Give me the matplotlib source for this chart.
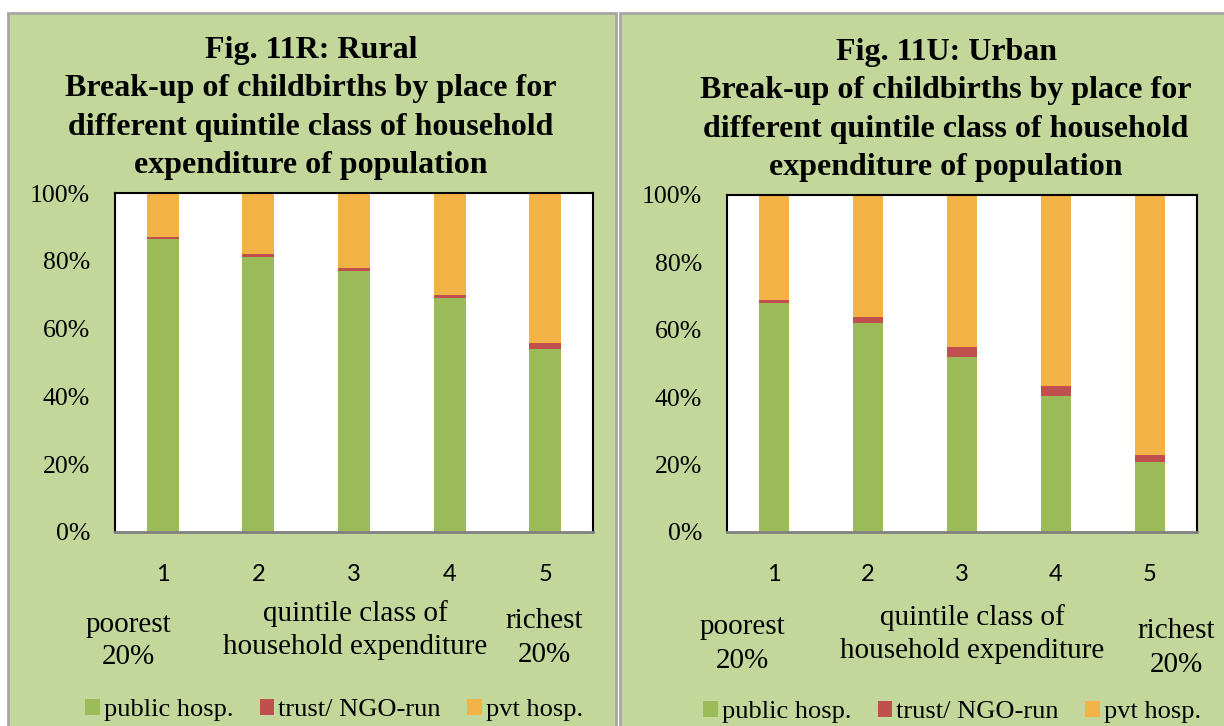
import matplotlib
matplotlib.use("Agg")
import matplotlib.pyplot as plt
from matplotlib.patches import Rectangle, Patch

# Data (shares of childbirths, %)
quintiles = ["1", "2", "3", "4", "5"]
series_names = ["public hosp.", "trust/ NGO-run", "pvt hosp."]

rural_public = [86.4, 81.1, 77.1, 69.1, 54.0]
rural_trust = [0.7, 0.9, 0.8, 0.9, 1.8]

urban_public = [67.9, 62.0, 51.9, 40.5, 20.8]
urban_trust = [1.0, 1.8, 3.1, 2.9, 2.0]

titles = [
    "Fig. 11R: Rural\nBreak-up of childbirths by place for\ndifferent quintile class of household\nexpenditure of population",
    "Fig. 11U: Urban\nBreak-up of childbirths by place for\ndifferent quintile class of household\nexpenditure of population",
]

# Styling
bg = "#C4D79B"
colors = ["#9BBB59", "#C0504D", "#F3B245"]
serif = ["Liberation Serif", "DejaVu Serif"]

W, H = 1224, 726
fig = plt.figure(figsize=(W / 100, H / 100), dpi=100)
fig.patch.set_facecolor("white")


def px(x, y):
    return x / W, 1 - y / H


def draw_panel(public, trust, title, box, axbox, textpos, legend_center, barw):
    # panel background
    x0, y0, x1, y1 = box
    fig.patches.append(Rectangle(px(x0, y1), (x1 - x0) / W, (y1 - y0) / H,
                                 transform=fig.transFigure, facecolor=bg,
                                 edgecolor="#A6A6A6", linewidth=2, zorder=-5))

    l, t, r, b = axbox
    ax = fig.add_axes([l / W, 1 - b / H, (r - l) / W, (b - t) / H])
    ax.set_facecolor("white")

    pvt = [100 - p - tr for p, tr in zip(public, trust)]
    bottom2 = [p + tr for p, tr in zip(public, trust)]
    x = range(len(quintiles))
    ax.bar(x, public, width=barw, color=colors[0], zorder=2)
    ax.bar(x, trust, width=barw, bottom=public, color=colors[1], zorder=2)
    ax.bar(x, pvt, width=barw, bottom=bottom2, color=colors[2], zorder=2)

    ax.set_xlim(-0.5, 4.5)
    ax.set_ylim(0, 100)
    ax.set_yticks(range(0, 101, 20))
    ax.set_yticklabels([f"{v}%" for v in range(0, 101, 20)],
                       family=serif, fontsize=18.5)
    ax.set_xticks(list(x))
    ax.set_xticklabels(quintiles, family="Lato", fontsize=17)
    ax.tick_params(axis="y", length=0, pad=18)
    ax.tick_params(axis="x", length=0, pad=23)
    for side in ["top", "left", "right"]:
        ax.spines[side].set_color("black")
        ax.spines[side].set_linewidth(1.5)
    ax.spines["bottom"].set_color("#808080")
    ax.spines["bottom"].set_linewidth(2)

    # title
    tx, ty = textpos["title"]
    fig.text(*px(tx, ty), title, ha="center", va="center", family=serif,
             fontsize=23, fontweight="bold", linespacing=1.42)

    # axis annotations under the ticks
    for key, label in [("poor", "poorest\n20%"),
                       ("mid", "quintile class of\nhousehold expenditure"),
                       ("rich", "richest\n20%")]:
        lx, ly = textpos[key]
        fig.text(*px(lx, ly), label, ha="center", va="center", family=serif,
                 fontsize=21, linespacing=1.35)

    handles = [Patch(facecolor=c, edgecolor="none") for c in colors]
    fig.legend(handles, series_names, loc="center",
               bbox_to_anchor=px(*legend_center), ncol=3, frameon=False,
               prop={"family": serif, "size": 19}, handlelength=0.55,
               handleheight=0.55, handletextpad=0.15, columnspacing=1.0)
    return ax


draw_panel(rural_public, rural_trust, titles[0],
           box=(8, 13, 616, 740), axbox=(115, 193, 593, 532),
           textpos={"title": (311, 108), "poor": (128, 641),
                    "mid": (355, 630), "rich": (544, 638)},
           legend_center=(334, 710), barw=0.335)

draw_panel(urban_public, urban_trust, titles[1],
           box=(620, 13, 1240, 740), axbox=(727, 195, 1197, 532),
           textpos={"title": (946, 110), "poor": (742, 644),
                    "mid": (972, 634), "rich": (1176, 648)},
           legend_center=(952, 712), barw=0.32)

fig.savefig("out.png", dpi=100)
